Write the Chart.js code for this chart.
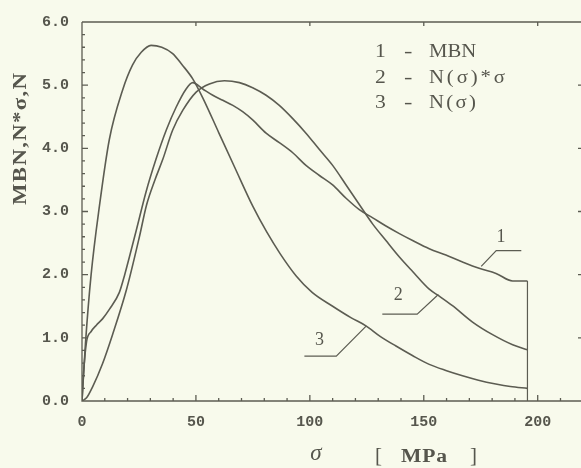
<!DOCTYPE html>
<html lang="en">
<head>
<meta charset="UTF-8" />
<title>MBN, N*σ, N versus σ</title>
<style>
  * { box-sizing: border-box; margin: 0; padding: 0; }
  body { background: #f8faec; width: 581px; height: 468px; overflow: hidden; }
</style>
</head>
<body>
<canvas id="chart" width="581" height="468"></canvas>

<script src="https://cdn.jsdelivr.net/npm/chart.js"></script>
<script>
// values, sigma in MPa
const mbnSigma = [0, 0.8, 2, 4, 6.3, 9, 12, 16.4, 18.6, 20.8, 23.8, 28.1, 32.5, 37, 41.3, 45.7, 48.6, 53, 57.4, 61.8, 66.2, 70.5, 74.9, 80.8, 86.6, 92.5, 98.3, 104.2, 110, 115.9, 121.7, 127.6, 133.4, 139.3, 145.1, 152.4, 159.7, 167, 174.3, 181.7, 189, 195.5];
const mbnValues = [0, 0.5, 0.94, 1.1, 1.2, 1.3, 1.45, 1.72, 1.98, 2.28, 2.7, 3.31, 3.83, 4.29, 4.65, 4.94, 5.04, 4.94, 4.84, 4.76, 4.68, 4.58, 4.45, 4.24, 4.09, 3.93, 3.73, 3.57, 3.42, 3.21, 3.03, 2.9, 2.77, 2.65, 2.54, 2.41, 2.31, 2.2, 2.1, 2.02, 1.9, 1.9];

const nsSigma = [0, 2, 4.6, 9, 13.4, 19.5, 25.2, 28.3, 32, 35.5, 39.8, 44.2, 50.1, 55.9, 62.5, 69.1, 74.9, 80.8, 86.6, 92.5, 98.3, 104.2, 110, 115.9, 121.7, 127.6, 133.4, 139.3, 145.1, 152.4, 156.8, 162.6, 171.4, 180.2, 189, 195.5];
const nsValues = [0, 0.05, 0.22, 0.59, 1.05, 1.76, 2.6, 3.1, 3.5, 3.83, 4.29, 4.6, 4.89, 5.02, 5.07, 5.04, 4.96, 4.84, 4.68, 4.47, 4.24, 3.98, 3.73, 3.42, 3.11, 2.8, 2.54, 2.28, 2.05, 1.77, 1.66, 1.51, 1.25, 1.05, 0.89, 0.81];

const nSigma = [0, 1.5, 4, 7.7, 12, 17.8, 22.2, 26, 30.3, 35, 39.8, 44, 48.6, 53, 60, 67, 75, 81, 87, 94, 101, 110, 118, 124.6, 131, 137.8, 145, 152.4, 160, 167, 174, 181.6, 188, 195.5];
const nValues = [0, 0.9, 2.0, 3.1, 4.14, 4.92, 5.32, 5.52, 5.63, 5.6, 5.5, 5.32, 5.1, 4.8, 4.25, 3.7, 3.08, 2.68, 2.33, 1.98, 1.72, 1.5, 1.32, 1.19, 1.02, 0.87, 0.72, 0.58, 0.48, 0.4, 0.33, 0.27, 0.23, 0.2];

// leader lines from the curve numbers to the curves
const leader1Sigma = [192.8, 181.8, 175.2];
const leader1Values = [2.38, 2.38, 2.13];
const leader2Sigma = [131.8, 147.1, 156.4];
const leader2Values = [1.376, 1.376, 1.685];
const leader3Sigma = [97.6, 111.6, 124.8];
const leader3Values = [0.711, 0.711, 1.19];

const curveNumbers = ["1", "2", "3"];
const curveNumberSigma = [183.9, 138.8, 104.2];
const curveNumberValues = [2.6, 1.67, 0.96];

const legendNames = ["MBN", "N(σ)*σ", "N(σ)"];
const xTicks = [0, 50, 100, 150, 200];
const yTicks = [0, 1, 2, 3, 4, 5, 6];

const lineColor = "#5c5c52";
const textColor = "#56564d";
const serif = "'Liberation Serif', serif";
const mono = "'Liberation Mono', monospace";

const toPoints = (xs, ys) => xs.map((x, i) => ({ x: x, y: ys[i] }));
const mbnEnd = [
  { x: mbnSigma[mbnSigma.length - 1], y: mbnValues[mbnValues.length - 1] },
  { x: mbnSigma[mbnSigma.length - 1], y: 0 },
];

function curve(label, data) {
  return {
    label: label,
    data: data,
    showLine: true,
    borderColor: lineColor,
    borderWidth: 1.6,
    pointRadius: 0,
    fill: false,
    cubicInterpolationMode: "monotone",
  };
}
function leader(label, data) {
  return {
    label: label,
    data: data,
    showLine: true,
    borderColor: lineColor,
    borderWidth: 1.2,
    pointRadius: 0,
    tension: 0,
  };
}

// the scan's type is wide: stretch it horizontally, then spread it to the width
function wideText(ctx, text, x, y, width, sx) {
  ctx.save();
  ctx.translate(x, y);
  ctx.scale(sx, 1);
  ctx.letterSpacing = "0px";
  const w = ctx.measureText(text).width;
  const gap = text.length > 1 ? Math.max(0, (width / sx - w) / (text.length - 1)) : 0;
  ctx.letterSpacing = gap + "px";
  ctx.textAlign = "left";
  ctx.fillText(text, 0, 0);
  ctx.restore();
}

const paper = {
  id: "paper",
  beforeDraw(chart) {
    const ctx = chart.ctx;
    ctx.save();
    ctx.fillStyle = "#f8faec";
    ctx.fillRect(0, 0, chart.width, chart.height);
    ctx.restore();
  },
  afterDraw(chart) {
    const { ctx, chartArea: a, scales } = chart;
    const x = scales.x, y = scales.y;
    ctx.save();
    ctx.strokeStyle = lineColor;
    ctx.lineWidth = 1.3;
    ctx.beginPath();
    ctx.moveTo(a.left, a.top);
    ctx.lineTo(a.left, a.bottom);
    ctx.lineTo(a.right, a.bottom);
    ctx.moveTo(a.left, a.top);
    ctx.lineTo(a.right, a.top);
    // ticks on bottom and top
    for (let v = 0; v <= 210; v += 10) {
      const px = x.getPixelForValue(v);
      const len = v % 50 === 0 ? 6 : 3;
      ctx.moveTo(px, a.bottom);
      ctx.lineTo(px, a.bottom - len);
      if (v % 50 === 0 && v > 0) {
        ctx.moveTo(px, a.top);
        ctx.lineTo(px, a.top + 4);
      }
    }
    // ticks on left, and the right axis just beyond the edge
    for (let i = 0; i <= 30; i++) {
      const v = i * 0.2;
      const py = y.getPixelForValue(v);
      const len = i % 5 === 0 ? 6 : 3;
      ctx.moveTo(a.left, py);
      ctx.lineTo(a.left + len, py);
      if (i % 5 === 0 && i > 0 && i < 30) {
        ctx.moveTo(a.right, py);
        ctx.lineTo(a.right - 3, py);
      }
    }
    ctx.stroke();

    ctx.fillStyle = textColor;
    ctx.textBaseline = "middle";

    // y axis title, reads bottom to top
    ctx.save();
    ctx.font = "bold 19px " + serif;
    ctx.translate(21, 205);
    ctx.rotate(-Math.PI / 2);
    wideText(ctx, "MBN,N*σ,N", 0, 0, 132, 1.2);
    ctx.restore();

    // x axis title
    ctx.font = "italic 23px " + serif;
    ctx.textAlign = "center";
    ctx.fillText("σ", 316, 454);
    ctx.font = "21px " + serif;
    ctx.textAlign = "left";
    ctx.fillText("[", 375, 456);
    ctx.textAlign = "right";
    ctx.fillText("]", 477, 456);
    ctx.font = "bold 18px " + serif;
    wideText(ctx, "MPa", 401, 457, 46, 1.2);

    // legend
    const rows = [52, 78, 103];
    legendNames.forEach((name, i) => {
      ctx.font = "18px " + serif;
      wideText(ctx, curveNumbers[i], 375, rows[i], 9, 1.2);
      wideText(ctx, "-", 404, rows[i], 8, 1.4);
      const target = name === "MBN" ? 46 : name === "N(σ)" ? 47 : 76;
      wideText(ctx, name, 429, rows[i], target, 1.15);
    });

    // curve numbers
    ctx.font = "18px " + serif;
    ctx.textAlign = "center";
    curveNumbers.forEach((n, i) => {
      ctx.fillText(n, x.getPixelForValue(curveNumberSigma[i]), y.getPixelForValue(curveNumberValues[i]));
    });
    ctx.restore();
  },
};

new Chart(document.getElementById("chart"), {
  type: "scatter",
  data: {
    datasets: [
      curve("MBN", toPoints(mbnSigma, mbnValues)),
      leader("MBN end", mbnEnd),
      curve("N(σ)*σ", toPoints(nsSigma, nsValues)),
      curve("N(σ)", toPoints(nSigma, nValues)),
      leader("leader 1", toPoints(leader1Sigma, leader1Values)),
      leader("leader 2", toPoints(leader2Sigma, leader2Values)),
      leader("leader 3", toPoints(leader3Sigma, leader3Values)),
    ],
  },
  options: {
    responsive: false,
    animation: false,
    devicePixelRatio: 1,
    layout: { padding: { top: 13, right: 0, bottom: 0, left: 0 } },
    plugins: { legend: { display: false }, tooltip: { enabled: false } },
    scales: {
      x: {
        type: "linear",
        min: 0,
        max: 219,
        afterFit: (s) => { s.height = 67; },
        afterBuildTicks: (s) => { s.ticks = xTicks.map((v) => ({ value: v })); },
        grid: { display: false, drawTicks: false },
        border: { display: false },
        ticks: {
          padding: 12,
          color: textColor,
          maxRotation: 0,
          autoSkip: false,
          font: { family: mono, weight: "bold", size: 15 },
        },
      },
      y: {
        min: 0,
        max: 6,
        afterFit: (s) => { s.width = 82; },
        afterBuildTicks: (s) => { s.ticks = yTicks.map((v) => ({ value: v })); },
        grid: { display: false, drawTicks: false },
        border: { display: false },
        ticks: {
          padding: 13,
          color: textColor,
          autoSkip: false,
          callback: (v) => Number(v).toFixed(1),
          font: { family: mono, weight: "bold", size: 15 },
        },
      },
    },
  },
  plugins: [paper],
});
</script>
</body>
</html>
